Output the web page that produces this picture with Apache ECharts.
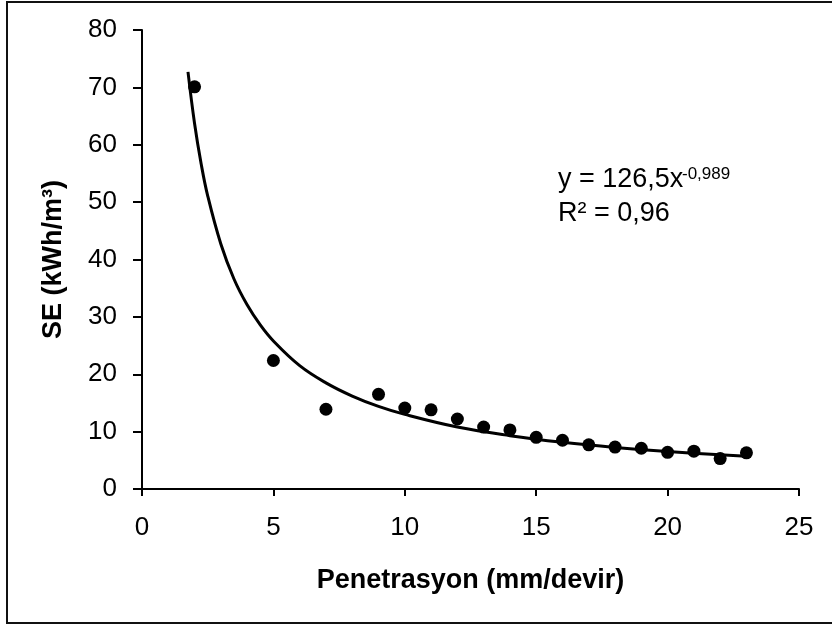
<!DOCTYPE html>
<html>
<head>
<meta charset="utf-8">
<script src="https://cdn.jsdelivr.net/npm/echarts@6/dist/echarts.min.js"></script>
<style>
  html, body { margin: 0; padding: 0; background: #fff; }
  #chart_se { width: 832px; height: 626px; }
</style>
</head>
<body>
<div id="chart_se"></div>
<script>
  // olculen noktalar
  let penetrasyon = [2, 5, 7, 9, 10, 11, 12, 13, 14, 15, 16, 17, 18, 19, 20, 21, 22, 23]
  let seValues = [70.1, 22.4, 13.9, 16.5, 14.1, 13.8, 12.2, 10.8, 10.3, 9.0, 8.5, 7.7, 7.3, 7.1, 6.4, 6.6, 5.3, 6.3]

  // trend cizgisi (resimden okunan noktalar)
  let trendX = [1.75, 2, 2.25, 2.5, 3, 3.5, 4, 4.5, 5, 6, 7, 8, 9, 10, 12, 14, 16, 18, 20, 23]
  let trendY = [72.7, 63.7, 56.7, 51.1, 42.7, 36.6, 32.1, 28.6, 25.8, 21.5, 18.5, 16.2, 14.4, 13.0, 10.8, 9.3, 8.15, 7.25, 6.54, 5.69]

  let xTicks = [0, 5, 10, 15, 20, 25]
  let yTicks = [0, 10, 20, 30, 40, 50, 60, 70, 80]

  let fontName = 'Liberation Sans, Arial, sans-serif'
  let chart = echarts.init(document.getElementById('chart_se'))

  let options = {
    animation: false,
    textStyle: { fontFamily: fontName },
    grid: {
      left: 142,
      right: 33,
      top: 30,
      bottom: 137,
      containLabel: false,
      outerBoundsMode: 'none'
    },
    xAxis: {
      type: 'value',
      min: xTicks[0],
      max: xTicks[xTicks.length - 1],
      interval: 5,
      name: 'Penetrasyon (mm/devir)',
      nameLocation: 'middle',
      nameGap: 78,
      nameTextStyle: { fontSize: 27, fontWeight: 'bold', color: '#000', fontFamily: fontName },
      axisLine: { lineStyle: { color: '#000', width: 2 } },
      axisTick: { length: 7, lineStyle: { color: '#000', width: 2 } },
      axisLabel: { fontSize: 26, color: '#000', margin: 26, fontFamily: fontName },
      splitLine: { show: false }
    },
    yAxis: {
      type: 'value',
      min: yTicks[0],
      max: yTicks[yTicks.length - 1],
      interval: 10,
      name: 'SE (kWh/m³)',
      nameLocation: 'middle',
      nameGap: 75,
      nameTextStyle: { fontSize: 27, fontWeight: 'bold', color: '#000', fontFamily: fontName },
      axisLine: { show: true, lineStyle: { color: '#000', width: 2 } },
      axisTick: { show: true, length: 9, lineStyle: { color: '#000', width: 2 } },
      axisLabel: { fontSize: 26, color: '#000', margin: 25, fontFamily: fontName },
      splitLine: { show: false }
    },
    graphic: [
      {
        type: 'rect',
        shape: { x: 7, y: 2, width: 900, height: 621 },
        style: { fill: 'none', stroke: '#111', lineWidth: 2 },
        silent: true
      },
      {
        type: 'text',
        left: 558,
        top: 166,
        style: { text: 'y = 126,5x', fontSize: 27, fill: '#000', fontFamily: fontName }
      },
      {
        type: 'text',
        left: 682,
        top: 166,
        style: { text: '-0,989', fontSize: 17, fill: '#000', fontFamily: fontName }
      },
      {
        type: 'text',
        left: 558,
        top: 200,
        style: { text: 'R² = 0,96', fontSize: 27, fill: '#000', fontFamily: fontName }
      }
    ],
    series: [
      {
        name: 'trend',
        type: 'line',
        smooth: 0.4,
        symbol: 'none',
        lineStyle: { color: '#000', width: 3 },
        data: trendX.map((x, i) => {
          return [x, trendY[i]]
        }),
        z: 3
      },
      {
        name: 'SE',
        type: 'scatter',
        symbol: 'circle',
        symbolSize: 13,
        itemStyle: { color: '#000', opacity: 1 },
        data: penetrasyon.map((x, i) => {
          return [x, seValues[i]]
        }),
        z: 2
      }
    ]
  }
  chart.setOption(options)
</script>
</body>
</html>
